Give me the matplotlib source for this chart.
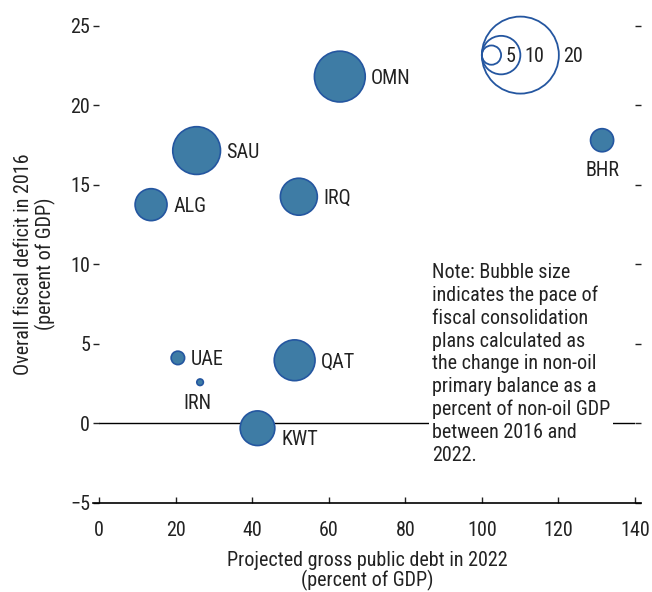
import matplotlib
matplotlib.use("Agg")
import matplotlib.pyplot as plt
from matplotlib import font_manager

# 字体：优先使用窄体
names = {f.name for f in font_manager.fontManager.ttflist}
fam = [n for n in ['Roboto Condensed', 'Arial Narrow', 'Liberation Sans Narrow',
                   'Roboto', 'DejaVu Sans'] if n in names]
plt.rcParams['font.family'] = fam

# 数据
countries = ['ALG', 'SAU', 'IRQ', 'OMN', 'BHR', 'UAE', 'IRN', 'QAT', 'KWT']
debt_2022 = [13.6, 25.5, 52.2, 62.9, 131.4, 20.6, 26.4, 51.1, 41.4]
deficit_2016 = [13.75, 17.15, 14.25, 21.8, 17.8, 4.12, 2.59, 3.97, -0.3]
pace = [8.3, 12.4, 9.6, 13.2, 6.0, 3.5, 1.7, 10.6, 9.0]

legend_sizes = [5, 10, 20]
legend_labels = ['5', '10', '20']

x_ticks = [0, 20, 40, 60, 80, 100, 120, 140]
y_ticks = [-5, 0, 5, 10, 15, 20, 25]

note = ("Note: Bubble size\nindicates the pace of\nfiscal consolidation\n"
        "plans calculated as\nthe change in non-oil\nprimary balance as a\n"
        "percent of non-oil GDP\nbetween 2016 and\n2022.")

fill_color = '#3e7ca5'
edge_color = '#2456a0'
text_color = '#222222'
fs = 14.5

W, H = 652, 592
DPI = 100
fig = plt.figure(figsize=(W / DPI, H / DPI), dpi=DPI)
ax_l, ax_r = 99 / W, 635 / W
ax_b, ax_t = 1 - 503 / H, 1 - 1 / H
ax = fig.add_axes([ax_l, ax_b, ax_r - ax_l, ax_t - ax_b])
ax.set_xlim(0, 140)
ax.set_ylim(-5, 26.55)

px_per_unit = (ax_r - ax_l) * W / 140.0
size_px = 3.85  # 每单位气泡直径对应像素
pt = 72.0 / DPI

def to_s(v):
    return (v * size_px * pt) ** 2

# 零线
ax.axhline(0, color='black', lw=1.0, zorder=1)

# 气泡
ax.scatter(debt_2022, deficit_2016, s=[to_s(v) for v in pace],
           facecolor=fill_color, edgecolor=edge_color, linewidth=1.2, zorder=3)

# 国家标签
offsets = {
    'BHR': (0, -30, 'center'),
    'IRN': (-3, -21, 'center'),
    'KWT': (24, -11, 'left'),
}
for name, x, y, v in zip(countries, debt_2022, deficit_2016, pace):
    r = v * size_px / 2
    if name in offsets:
        dx, dy, ha = offsets[name]
    else:
        dx, dy, ha = r + 6, -2, 'left'
    ax.annotate(name, (x, y), xytext=(dx, dy), textcoords='offset pixels',
                ha=ha, va='center', fontsize=fs, color=text_color, zorder=4)

# 气泡大小图例
left_x = 100.0
leg_y = 23.15
for v, lab in zip(legend_sizes, legend_labels):
    d_units = v * size_px / px_per_unit
    cx = left_x + d_units / 2
    ax.scatter([cx], [leg_y], s=to_s(v), facecolor='none', edgecolor=edge_color,
               linewidth=1.3, zorder=3)
    ax.annotate(lab, (left_x + d_units, leg_y), xytext=(4, -1.5),
                textcoords='offset pixels', ha='left', va='center',
                fontsize=fs, color=text_color)

# 注释
ax.text(87, 10.1, note, ha='left', va='top', fontsize=fs, color=text_color,
        linespacing=1.25, zorder=5,
        bbox=dict(facecolor='white', edgecolor='none', pad=2))

# 坐标轴
for s in ['top', 'left', 'right', 'bottom']:
    ax.spines[s].set_visible(False)
tick_len = 6 * pt
ext = 6 / ((ax_r - ax_l) * W)
ax.plot([-ext, 1 + ext], [0, 0], transform=ax.transAxes, color='black', lw=1.2,
        clip_on=False)

ax.set_xticks(x_ticks)
ax.set_yticks(y_ticks)
ax.set_yticklabels([str(t).replace('-', '\u2212') for t in y_ticks])
ax.tick_params(axis='x', direction='in', length=tick_len, width=1, pad=13,
               labelsize=fs, colors=text_color)
ax.tick_params(axis='y', direction='out', length=tick_len, width=1, pad=2,
               labelsize=fs, colors=text_color, right=True)

ax.set_xlabel('Projected gross public debt in 2022\n(percent of GDP)', fontsize=fs,
              color=text_color, linespacing=1.0)
ax.set_ylabel('Overall fiscal deficit in 2016\n(percent of GDP)', fontsize=fs,
              color=text_color, linespacing=1.1)
ax.xaxis.set_label_coords(0.5, -0.096)
ax.yaxis.set_label_coords(-0.08, 0.5 - 12 / 502)

fig.savefig('out.png', dpi=DPI)
